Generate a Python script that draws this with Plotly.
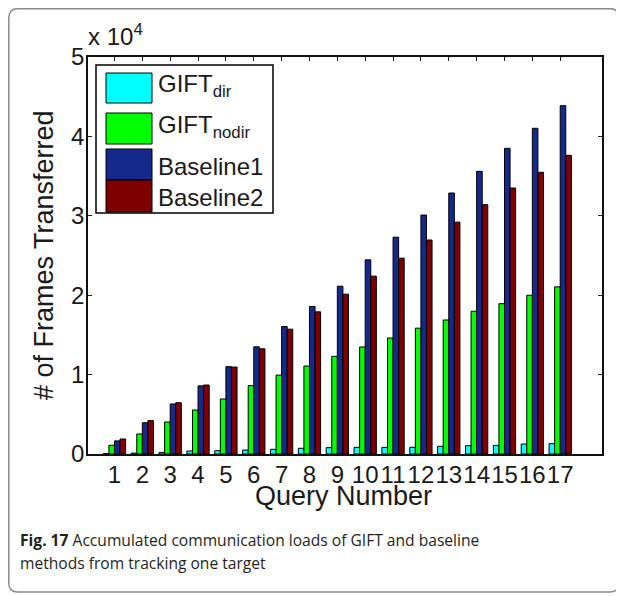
import plotly.graph_objects as go

queries = list(range(1, 18))
tick_labels = [str(q) for q in queries]
gift_dir = [50, 120, 200, 380, 420, 500, 590, 720, 800, 840, 840, 850, 970, 1050, 1090, 1260, 1300]
gift_nodir = [1100, 2520, 4030, 5540, 6930, 8620, 9940, 11080, 12300, 13480, 14610, 15850, 16880, 17980, 18930, 19990, 21050]
baseline1 = [1650, 3940, 6300, 8580, 11000, 13500, 16060, 18580, 21130, 24450, 27310, 30100, 32870, 35600, 38500, 41020, 43870]
baseline2 = [1890, 4200, 6460, 8690, 10950, 13250, 15720, 17900, 20130, 22400, 24660, 26950, 29200, 31400, 33500, 35480, 37620]
y_tickvals = [0, 10000, 20000, 30000, 40000, 50000]
y_ticktext = ["0", "1", "2", "3", "4", "5"]

series = [
    ("GIFT<sub>dir</sub>", gift_dir, "#00FFFF"),
    ("GIFT<sub>nodir</sub>", gift_nodir, "#00FF00"),
    ("Baseline1", baseline1, "#15298C"),
    ("Baseline2", baseline2, "#7F0000"),
]

# page body has an 8px margin, so the figure sits at (8, 8) in the window
OFF = 8
W, H = 624 - OFF, 596 - OFF
# plot area in window pixels
L, R, T, B = 88, 602, 57, 454


def px(x):
    return (x - L) / (R - L)


def py(y):
    return (B - y) / (B - T)


FONT = "Liberation Sans, Arial, Helvetica, sans-serif"

fig = go.Figure()
for name, vals, col in series:
    fig.add_trace(go.Bar(
        x=queries, y=vals, name=name,
        marker=dict(color=col, line=dict(color="black", width=1)),
        showlegend=False,
    ))

fig.update_layout(
    width=W, height=H,
    margin=dict(l=L - OFF, r=W - (R - OFF), t=T - OFF, b=H - (B - OFF), pad=0),
    paper_bgcolor="white", plot_bgcolor="white",
    barmode="group", bargap=0.2, bargroupgap=0,
    font=dict(family=FONT, size=24, color="#1a1a1a"),
)
fig.update_xaxes(
    range=[0.05, 18.5], tickmode="array", tickvals=queries, ticktext=tick_labels,
    tickangle=0, ticks="inside", ticklen=4, tickcolor="#222",
    showline=True, linecolor="#111", linewidth=1.5, mirror="ticks",
    showgrid=False, zeroline=False, tickfont=dict(size=24, color="#1a1a1a"),
    ticklabelstandoff=-2,
)
fig.update_yaxes(
    range=[0, 50000], tickmode="array", tickvals=y_tickvals, ticktext=y_ticktext,
    ticks="inside", ticklen=4, tickcolor="#222",
    showline=True, linecolor="#111", linewidth=1.5, mirror="ticks",
    showgrid=False, zeroline=False, tickfont=dict(size=24, color="#1a1a1a"),
    ticklabelstandoff=-3,
)

anns = []
# axis titles
anns.append(dict(text="Query Number", x=px(343), y=py(496), xref="paper", yref="paper",
                 xanchor="center", yanchor="middle", showarrow=False, font=dict(size=27)))
anns.append(dict(text="# of Frames Transferred", x=px(44), y=py(255), xref="paper", yref="paper",
                 xanchor="center", yanchor="middle", textangle=-90, showarrow=False, font=dict(size=27)))
# exponent label
anns.append(dict(text="x 10<sup>4</sup>", x=px(86), y=py(52), xref="paper", yref="paper",
                 xanchor="left", yanchor="bottom", showarrow=False, font=dict(size=24)))

shapes = []
# legend box
shapes.append(dict(type="rect", xref="paper", yref="paper", x0=px(96), x1=px(273), y0=py(213), y1=py(65),
                   fillcolor="white", line=dict(color="black", width=1.5), layer="above"))
rows = [(73, 103, 86), (113, 144, 126), (149, 180, 166), (180, 212, 197)]
for (name, vals, col), (y0, y1, ty) in zip(series, rows):
    shapes.append(dict(type="rect", xref="paper", yref="paper", x0=px(106), x1=px(152), y0=py(y1), y1=py(y0),
                       fillcolor=col, line=dict(color="black", width=1), layer="above"))
    anns.append(dict(text=name, x=px(156), y=py(ty), xref="paper", yref="paper",
                     xanchor="left", yanchor="middle", showarrow=False, font=dict(size=24)))

# outer figure frame (rounded), kept inside the figure's own area
x0, x1, y0, y1, r = OFF + 0.8, 619, OFF + 0.8, 592, 9


def P(x, y):
    return f"{px(x)},{py(y)}"


path = (f"M {P(x0 + r, y0)} L {P(x1 - r, y0)} Q {P(x1, y0)} {P(x1, y0 + r)} "
        f"L {P(x1, y1 - r)} Q {P(x1, y1)} {P(x1 - r, y1)} L {P(x0 + r, y1)} "
        f"Q {P(x0, y1)} {P(x0, y1 - r)} L {P(x0, y0 + r)} Q {P(x0, y0)} {P(x0 + r, y0)} Z")
shapes.append(dict(type="path", xref="paper", yref="paper", path=path,
                   line=dict(color="#8a8a8a", width=1.5), layer="below"))

# caption
CAP = "Open Sans, Noto Sans, sans-serif"
anns.append(dict(text="<b>Fig. 17</b> Accumulated communication loads of GIFT and baseline",
                 x=px(18), y=py(540), xref="paper", yref="paper", xanchor="left", yanchor="middle",
                 showarrow=False, font=dict(family=CAP, size=15.6, color="#231f20")))
anns.append(dict(text="methods from tracking one target",
                 x=px(18), y=py(563), xref="paper", yref="paper", xanchor="left", yanchor="middle",
                 showarrow=False, font=dict(family=CAP, size=15.6, color="#231f20")))

fig.update_layout(annotations=anns, shapes=shapes)
fig.write_html("out.html")
